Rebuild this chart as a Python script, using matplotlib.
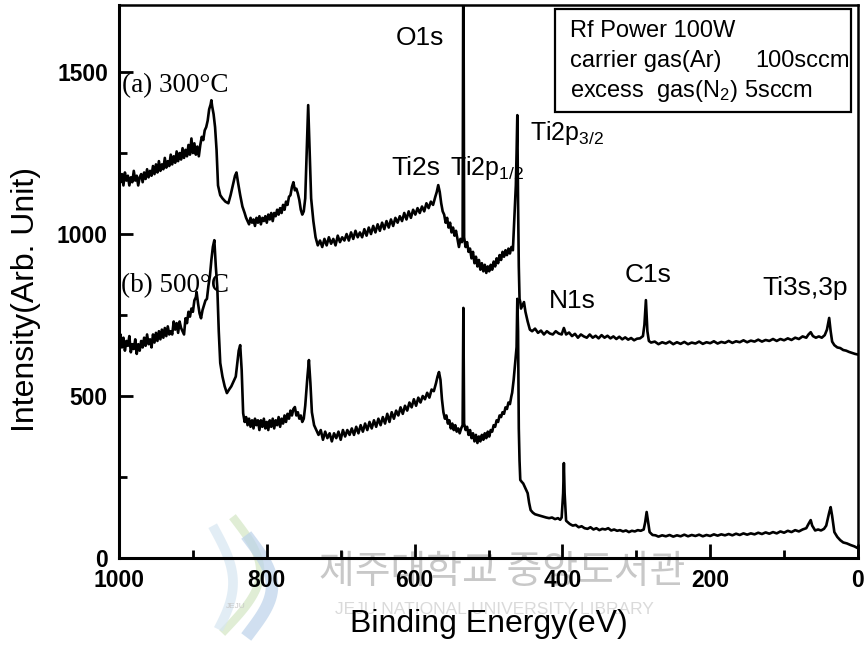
import matplotlib
matplotlib.use("Agg")
import matplotlib.pyplot as plt
from matplotlib.patches import Rectangle
import numpy as np

plt.rcParams['font.family'] = ['Liberation Sans', 'DejaVu Sans']
plt.rcParams['mathtext.fontset'] = 'custom'
plt.rcParams['mathtext.rm'] = 'Liberation Sans'
plt.rcParams['mathtext.it'] = 'Liberation Sans:italic'
plt.rcParams['mathtext.bf'] = 'Liberation Sans:bold'

# ---------------- data (binding energy eV, intensity) ----------------
spectrum_a = [
    (1000, 1195), (998, 1160), (996, 1185), (994, 1150), (992, 1190), (990, 1165),
    (988, 1180), (986, 1150), (984, 1175), (982, 1160), (980, 1195), (978, 1165),
    (976, 1180), (974, 1150), (972, 1175), (970, 1185), (968, 1160), (966, 1190),
    (964, 1170), (962, 1200), (960, 1175), (958, 1195), (956, 1180), (954, 1210),
    (952, 1185), (950, 1215), (948, 1190), (946, 1225), (944, 1195), (942, 1215),
    (940, 1200), (938, 1235), (936, 1205), (934, 1225), (932, 1210), (930, 1245),
    (928, 1215), (926, 1240), (924, 1220), (922, 1255), (920, 1225), (918, 1250),
    (916, 1230), (914, 1265), (912, 1235), (910, 1260), (908, 1240), (906, 1275),
    (904, 1245), (902, 1295), (900, 1250), (898, 1280), (896, 1245), (894, 1270),
    (892, 1240), (890, 1275), (888, 1300), (886, 1290), (884, 1320), (882, 1330),
    (880, 1350), (878, 1385), (876, 1400), (875, 1413), (874, 1395), (872, 1370),
    (870, 1330), (868, 1260), (866, 1150), (863, 1120), (860, 1110), (856, 1100),
    (852, 1095), (849, 1120), (846, 1150), (843, 1180), (841, 1190), (839, 1160),
    (836, 1120), (833, 1085), (830, 1065), (828, 1050), (826, 1040), (824, 1030),
    (822, 1050), (820, 1035), (818, 1045), (816, 1025), (814, 1050), (812, 1035),
    (810, 1055), (808, 1030), (806, 1050), (804, 1040), (802, 1055), (800, 1035),
    (798, 1060), (796, 1045), (794, 1065), (792, 1040), (790, 1065), (788, 1055),
    (786, 1075), (784, 1060), (782, 1080), (780, 1065), (778, 1090), (776, 1075),
    (774, 1100), (772, 1090), (770, 1115), (768, 1120), (766, 1145), (764, 1160),
    (762, 1135), (760, 1140), (758, 1125), (756, 1105), (754, 1075), (752, 1060),
    (750, 1070), (748, 1110), (746, 1250), (744, 1398), (742, 1250), (740, 1110),
    (737, 1040), (734, 990), (731, 965), (728, 980), (725, 960), (722, 985),
    (719, 965), (716, 990), (713, 970), (710, 985), (707, 965), (704, 995),
    (701, 975), (698, 990), (695, 980), (692, 1000), (689, 980), (686, 1005),
    (683, 985), (680, 1010), (677, 990), (674, 1005), (671, 990), (668, 1015),
    (665, 995), (662, 1020), (659, 1000), (656, 1025), (653, 1005), (650, 1030),
    (647, 1010), (644, 1035), (641, 1015), (638, 1040), (635, 1020), (632, 1045),
    (629, 1025), (626, 1050), (623, 1035), (620, 1055), (617, 1040), (614, 1065),
    (611, 1045), (608, 1070), (605, 1050), (602, 1075), (599, 1060), (596, 1080),
    (593, 1065), (590, 1085), (587, 1070), (584, 1095), (581, 1080), (578, 1100),
    (575, 1090), (572, 1115), (570, 1130), (568, 1151), (566, 1130), (564, 1095),
    (562, 1070), (560, 1060), (558, 1035), (556, 1050), (554, 1020), (552, 1035),
    (550, 1005), (548, 1020), (546, 995), (544, 1010), (542, 985), (540, 960),
    (538, 985), (536, 975), (535, 990), (534, 1950), (533, 990), (531, 960),
    (529, 975), (527, 945), (525, 955), (523, 925), (521, 945), (519, 910),
    (517, 930), (515, 900), (513, 920), (511, 890), (509, 910), (507, 885),
    (505, 905), (503, 880), (501, 900), (499, 885), (497, 905), (495, 890),
    (493, 915), (491, 900), (489, 925), (487, 910), (485, 935), (483, 920),
    (481, 945), (479, 930), (477, 950), (475, 935), (473, 955), (471, 940),
    (469, 960), (467, 950), (466, 1000), (464, 1100), (463, 1150), (462, 1250),
    (461, 1367), (460, 1100), (459, 900), (458, 800), (457, 790), (456, 770),
    (454, 780), (452, 790), (450, 760), (447, 730), (444, 705), (441, 700),
    (437, 708), (433, 695), (429, 702), (425, 690), (421, 700), (417, 693),
    (413, 690), (409, 700), (405, 693), (401, 690), (398, 710), (395, 690),
    (391, 696), (387, 685), (383, 692), (379, 680), (375, 690), (371, 684),
    (367, 680), (363, 690), (359, 680), (355, 686), (351, 678), (347, 688),
    (343, 680), (339, 686), (335, 678), (331, 684), (327, 676), (323, 683),
    (319, 675), (315, 681), (311, 674), (307, 679), (303, 672), (299, 677),
    (295, 678), (291, 685), (289, 720), (287, 796), (285, 700), (283, 670),
    (280, 665), (275, 668), (270, 660), (265, 666), (260, 662), (255, 668),
    (250, 660), (245, 666), (240, 661), (235, 667), (230, 660), (225, 665),
    (220, 662), (215, 668), (210, 661), (205, 666), (200, 663), (195, 669),
    (190, 662), (185, 667), (180, 664), (175, 670), (170, 664), (165, 669),
    (160, 666), (155, 672), (150, 666), (145, 671), (140, 668), (135, 674),
    (130, 668), (125, 673), (120, 670), (115, 676), (110, 670), (105, 676),
    (100, 672), (95, 678), (90, 673), (85, 680), (80, 676), (75, 684),
    (70, 680), (67, 690), (64, 697), (61, 685), (57, 680), (53, 684),
    (49, 680), (45, 688), (42, 705), (40, 730), (39, 741), (37, 700),
    (35, 668), (32, 657), (28, 650), (24, 648), (20, 642), (16, 640),
    (12, 636), (8, 633), (4, 630), (0, 628),
]

spectrum_b = [
    (1000, 665), (998, 690), (996, 650), (994, 680), (992, 640), (990, 670),
    (988, 655), (986, 685), (984, 635), (982, 660), (980, 645), (978, 675),
    (976, 630), (974, 660), (972, 640), (970, 670), (968, 650), (966, 680),
    (964, 655), (962, 690), (960, 660), (958, 675), (956, 650), (954, 690),
    (952, 665), (950, 695), (948, 670), (946, 700), (944, 675), (942, 705),
    (940, 680), (938, 710), (936, 685), (934, 715), (932, 690), (930, 700),
    (928, 690), (926, 730), (924, 705), (922, 725), (920, 695), (918, 730),
    (916, 710), (914, 700), (912, 690), (910, 740), (908, 725), (906, 760),
    (904, 745), (902, 770), (900, 760), (898, 795), (896, 805), (895, 821),
    (893, 785), (891, 755), (889, 740), (887, 765), (885, 780), (883, 795),
    (881, 800), (879, 840), (877, 870), (875, 920), (873, 960), (871, 981),
    (869, 900), (867, 836), (865, 700), (863, 602), (860, 560), (857, 530),
    (854, 509), (851, 520), (848, 530), (845, 545), (842, 560), (840, 600),
    (838, 640), (836, 657), (834, 580), (832, 447), (830, 420), (828, 435),
    (826, 410), (824, 430), (822, 405), (820, 425), (818, 400), (816, 430),
    (814, 410), (812, 425), (810, 395), (808, 425), (806, 405), (804, 430),
    (802, 400), (800, 420), (798, 395), (796, 425), (794, 405), (792, 430),
    (790, 400), (788, 425), (786, 410), (784, 435), (782, 405), (780, 430),
    (778, 415), (776, 440), (774, 420), (772, 445), (770, 430), (768, 455),
    (766, 440), (764, 460), (762, 466), (760, 440), (758, 450), (756, 430),
    (754, 440), (752, 420), (750, 430), (748, 470), (745, 560), (743, 611),
    (741, 540), (739, 450), (736, 410), (733, 395), (730, 380), (727, 395),
    (724, 365), (721, 390), (718, 370), (715, 385), (712, 360), (709, 385),
    (706, 370), (703, 390), (700, 365), (697, 395), (694, 375), (691, 395),
    (688, 380), (685, 400), (682, 380), (679, 405), (676, 385), (673, 410),
    (670, 390), (667, 415), (664, 395), (661, 420), (658, 400), (655, 425),
    (652, 405), (649, 430), (646, 410), (643, 435), (640, 415), (637, 445),
    (634, 420), (631, 450), (628, 430), (625, 455), (622, 440), (619, 465),
    (616, 445), (613, 470), (610, 455), (607, 480), (604, 465), (601, 490),
    (598, 470), (595, 495), (592, 480), (589, 500), (586, 490), (583, 510),
    (580, 495), (577, 520), (574, 515), (571, 540), (569, 560), (567, 574),
    (565, 550), (563, 490), (561, 450), (559, 430), (557, 440), (555, 415),
    (553, 425), (551, 400), (549, 415), (547, 395), (545, 410), (543, 390),
    (541, 400), (539, 385), (537, 400), (535, 410), (534, 772), (533, 415),
    (531, 395), (529, 405), (527, 380), (525, 395), (523, 370), (521, 385),
    (519, 360), (517, 380), (515, 355), (513, 375), (511, 360), (509, 380),
    (507, 365), (505, 385), (503, 370), (501, 390), (499, 375), (497, 395),
    (495, 390), (493, 410), (491, 405), (489, 425), (487, 420), (485, 440),
    (483, 435), (481, 450), (479, 445), (477, 465), (475, 460), (473, 480),
    (471, 475), (469, 500), (468, 510), (466, 549), (464, 600), (462, 651),
    (461, 800), (460, 700), (459, 400), (458, 300), (457, 241), (455, 235),
    (453, 230), (450, 215), (447, 200), (445, 170), (443, 148), (440, 140),
    (437, 135), (434, 133), (430, 130), (426, 128), (422, 125), (418, 123),
    (414, 125), (410, 120), (406, 123), (403, 118), (401, 125), (399, 200),
    (398, 293), (397, 200), (395, 115), (393, 111), (390, 105), (386, 100),
    (382, 102), (378, 95), (374, 98), (370, 92), (366, 90), (362, 95),
    (358, 88), (354, 92), (350, 86), (346, 90), (342, 88), (338, 92),
    (334, 85), (330, 88), (326, 84), (322, 86), (318, 82), (314, 85),
    (310, 80), (306, 84), (302, 82), (298, 86), (294, 84), (290, 88),
    (288, 110), (286, 142), (284, 110), (282, 80), (278, 71), (274, 70),
    (270, 66), (265, 70), (260, 67), (255, 71), (250, 66), (245, 70),
    (240, 67), (235, 72), (230, 67), (225, 71), (220, 68), (215, 72),
    (210, 67), (205, 71), (200, 68), (195, 73), (190, 69), (185, 73),
    (180, 70), (175, 74), (170, 70), (165, 75), (160, 71), (155, 76),
    (150, 72), (145, 76), (140, 73), (135, 78), (130, 74), (125, 79),
    (120, 75), (115, 80), (110, 76), (105, 82), (100, 78), (95, 84),
    (90, 80), (85, 86), (80, 82), (75, 88), (70, 92), (67, 105),
    (64, 117), (62, 100), (58, 85), (54, 88), (50, 85), (46, 90),
    (43, 100), (41, 120), (39, 140), (37, 157), (35, 130), (32, 80),
    (28, 65), (24, 55), (20, 48), (15, 45), (10, 40), (5, 36), (0, 30),
]

peak_labels = ["O1s", "Ti2s", r"Ti2p$_{\mathrm{1/2}}$", r"Ti2p$_{\mathrm{3/2}}$", "N1s", "C1s", "Ti3s,3p"]
condition_lines = ["Rf Power 100W", "carrier gas(Ar)", "100sccm", r"excess  gas(N$_{2}$) 5sccm"]
sample_labels = ["(a) 300°C", "(b) 500°C"]

x_ticks = [1000, 800, 600, 400, 200, 0]
y_ticks = [0, 500, 1000, 1500]

# ---------------- figure ----------------
W, H = 865, 646
fig = plt.figure(figsize=(W / 100, H / 100), dpi=100)
L, R, T, B = 119, 858, 5, 558
ax = fig.add_axes([L / W, (H - B) / H, (R - L) / W, (B - T) / H])
ax.patch.set_alpha(0)

ea, ia = zip(*spectrum_a)
eb, ib = zip(*spectrum_b)
ax.plot(ea, ia, color='black', lw=1.9, solid_joinstyle='round')
ax.plot(eb, ib, color='black', lw=1.9, solid_joinstyle='round')

ax.set_xlim(1000, 0)
ax.set_ylim(0, 1707)
ax.set_xticks(x_ticks)
ax.set_yticks(y_ticks)
ax.set_xticks([900, 700, 500, 300, 100], minor=True)
ax.set_yticks([250, 750, 1250], minor=True)
ax.tick_params(which='both', direction='in', width=2, top=False, right=False)
ax.tick_params(which='major', length=10, labelsize=16.5, pad=8)
ax.tick_params(which='minor', length=6)
for lab in ax.get_xticklabels() + ax.get_yticklabels():
    lab.set_fontweight('bold')
for s in ['left', 'bottom']:
    ax.spines[s].set_linewidth(2.2)
for s in ['top', 'right']:
    ax.spines[s].set_linewidth(1.8)

ax.set_xlabel("Binding Energy(eV)", fontsize=23, labelpad=12)
ax.set_ylabel("Intensity(Arb. Unit)", fontsize=23)
ax.yaxis.set_label_coords(-0.105, 0.467)

# peak labels (data coordinates)
ax.text(593, 1584, peak_labels[0], fontsize=19, ha='center', va='baseline')
ax.text(598, 1182, peak_labels[1], fontsize=19, ha='center', va='baseline')
ax.text(552, 1182, peak_labels[2], fontsize=18, ha='left', va='baseline')
ax.text(444, 1290, peak_labels[3], fontsize=18, ha='left', va='baseline')
ax.text(387, 772, peak_labels[4], fontsize=19, ha='center', va='baseline')
ax.text(284, 852, peak_labels[5], fontsize=19, ha='center', va='baseline')
ax.text(72, 812, peak_labels[6], fontsize=19, ha='center', va='baseline')

serif = ['Liberation Serif', 'DejaVu Serif']
ax.text(996, 1438, sample_labels[0], fontsize=19.5, family=serif, ha='left', va='baseline')
ax.text(997, 821, sample_labels[1], fontsize=19.5, family=serif, ha='left', va='baseline')

# condition box (axes coordinates)
ax.add_patch(Rectangle((0.590, 0.8065), 0.4005, 0.1863, transform=ax.transAxes,
                       fill=False, lw=1.6, ec='black'))
fb = 17
ax.text(0.610, 0.942, condition_lines[0], fontsize=fb, transform=ax.transAxes, va='baseline')
ax.text(0.610, 0.888, condition_lines[1], fontsize=fb, transform=ax.transAxes, va='baseline')
ax.text(0.861, 0.888, condition_lines[2], fontsize=fb, transform=ax.transAxes, va='baseline')
ax.text(0.610, 0.834, condition_lines[3], fontsize=fb, transform=ax.transAxes, va='baseline')

# watermark
fig.text(502 / W, 1 - 572 / H, "제주대학교 중앙도서관", fontsize=28, color='#c8c8c8',
         family=['Noto Sans CJK KR', 'DejaVu Sans'], ha='center', va='center', zorder=-5)
fig.text(494 / W, 1 - 610 / H, "JEJU NATIONAL UNIVERSITY LIBRARY", fontsize=12.5,
         color='#dadada', ha='center', va='center', zorder=-5)
# logo approximation
t = np.linspace(0, 1, 50)
lx1 = 235 + 30 * np.sin(np.pi * t) - 10 * t
ly1 = 520 + 110 * t
fig.add_artist(plt.Line2D(lx1 / W, 1 - ly1 / H, color='#d3e6c4', lw=6, alpha=0.7, zorder=-6))
lx2 = 250 + 22 * np.sin(np.pi * t)
ly2 = 540 + 92 * t
fig.add_artist(plt.Line2D(lx2 / W, 1 - ly2 / H, color='#bcd2ea', lw=9, alpha=0.7, zorder=-6))
lx3 = 215 + 18 * np.sin(np.pi * t * 0.9)
ly3 = 530 + 95 * t
fig.add_artist(plt.Line2D(lx3 / W, 1 - ly3 / H, color='#d7e6f1', lw=7, alpha=0.7, zorder=-6))
fig.text(236 / W, 1 - 606 / H, "JEJU", fontsize=6, color='#c8c8c8', ha='center', va='center', zorder=-5)

fig.savefig("out.png", dpi=100)
